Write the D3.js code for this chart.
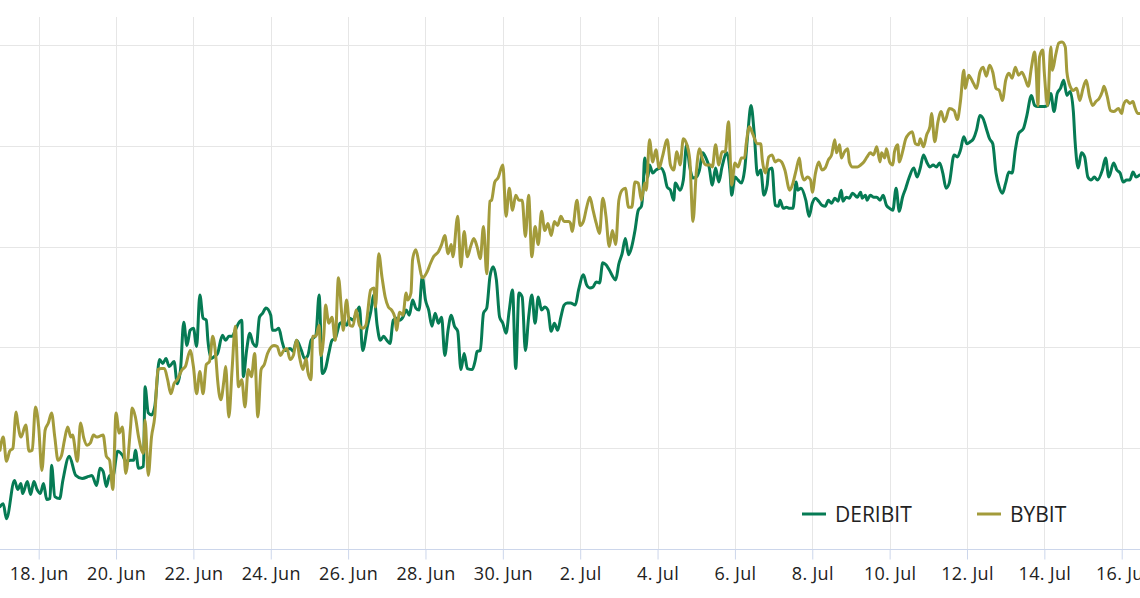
<!DOCTYPE html>
<html>
<head>
<meta charset="utf-8">
<title>DERIBIT vs BYBIT</title>
<script src="https://cdn.jsdelivr.net/npm/d3@7"></script>
<style>
  body { margin: 0; background: #fff; }
  svg { display: block; font-family: "Open Sans", "Noto Sans", sans-serif; }
</style>
</head>
<body>
<svg id="chart" width="1140" height="598"></svg>
<script>
// visible window of the chart
var viewStart = '2024-06-17T00:00';
var viewEnd = '2024-07-16T11:21';

// x axis ticks, every 2 days
var tickDates = ['2024-06-18', '2024-06-20', '2024-06-22', '2024-06-24', '2024-06-26', '2024-06-28', '2024-06-30',
  '2024-07-02', '2024-07-04', '2024-07-06', '2024-07-08', '2024-07-10', '2024-07-12', '2024-07-14', '2024-07-16'];

// horizontal grid lines (value labels are cut off in the picture)
var yTicks = [10, 20, 30, 40, 50];

var seriesNames = ['DERIBIT', 'BYBIT'];

// hours since viewStart
var deribitHours = [0, 2, 4, 9, 11, 13, 14, 17, 19, 21, 23, 25, 27, 29, 31, 32, 34, 37, 39, 43, 47, 51, 55, 57, 60, 62, 64, 66, 68, 70,
  73, 76, 78, 81, 83, 84, 86, 89, 90, 92, 94, 96, 99, 101, 103, 105, 108, 110, 112, 114, 116,
  118, 120, 122, 124, 126, 128, 129, 131, 133, 135, 138, 140, 142, 144, 146, 148, 150, 151, 153, 155, 157, 159, 161, 163, 165,
  168, 169, 171, 173, 175, 177, 180, 182, 184, 187, 189, 191, 193, 196, 198, 200, 202, 204, 206, 208, 211, 213, 215, 217, 219,
  221, 223, 225, 228, 230, 232, 234,
  236, 238, 240, 242, 244, 246, 248, 250, 252, 254, 256, 258, 260, 262, 264, 266, 268, 270, 272, 274, 276, 278, 280, 282, 284,
  286, 288, 290, 293, 295, 296, 298, 300, 302, 304, 306, 308, 310, 312, 314, 316, 318, 320, 322, 324, 326, 328, 330, 332, 334,
  336, 338, 340, 342, 344, 346, 348, 350, 352, 354,
  357, 359, 362, 364, 366, 368, 370, 372, 374, 376, 378, 382, 384, 386, 388, 390, 392, 394, 396, 398, 399, 400, 402, 403, 405,
  407, 410, 412, 414, 416, 418, 419, 422, 424, 426, 428, 430, 432, 434, 436, 438, 440, 442, 444, 446, 448, 451, 453, 454, 456,
  458, 460, 462, 464, 466, 468, 470,
  472, 474, 476, 477, 479, 481, 483, 484, 486, 488, 490, 492, 494, 495, 497, 500, 502, 504, 506, 508, 510, 512, 514, 516, 518,
  520, 522, 523, 525, 527, 529, 532, 534, 535, 537, 538, 540, 542, 544, 546, 548, 550, 552, 554, 556, 558, 560, 562, 564, 567,
  569, 571, 573, 575, 577, 579, 581, 583, 585, 587,
  589, 592, 594, 596, 598, 600, 602, 604, 606, 608, 610, 612, 614, 616, 618, 620, 622, 624, 626, 628, 630, 632, 635, 637, 640,
  642, 644, 646, 648, 650, 652, 654, 656, 658, 660, 662, 664, 666, 667, 669, 671, 673, 675, 677, 679, 681, 684, 686, 688, 691,
  693, 695, 697, 699, 701, 703, 705, 707];
var deribitValues = [4.2, 4.5, 3.0, 6.8, 5.9, 6.5, 5.5, 6.7, 5.4, 6.7, 5.9, 5.5, 6.5, 4.9, 5.0, 8.3, 5.2, 5.0, 6.8, 9.2, 7.3, 7.0, 7.2, 7.3, 6.3, 8.0, 7.7, 6.2, 7.3, 7.2,
  9.7, 9.3, 8.7, 8.8, 8.8, 9.8, 8.0, 8.2, 16.1, 13.5, 13.3, 14.1, 18.8, 18.4, 18.9, 18.1, 18.6, 16.4, 17.8, 22.5, 20.2,
  21.7, 21.9, 20.1, 25.2, 22.9, 22.7, 20.7, 18.9, 19.1, 19.4, 21.2, 20.7, 21.1, 21.1, 21.7, 22.4, 22.7, 17.1, 19.7, 21.4, 20.4, 20.1, 23.0, 23.4, 23.9,
  23.2, 21.7, 21.7, 21.9, 20.6, 19.7, 19.9, 19.6, 20.7, 19.7, 18.9, 19.2, 20.7, 21.2, 25.2, 17.4, 17.9, 19.4, 20.7, 20.9, 22.4, 22.5, 22.2, 22.9, 22.7,
  23.4, 24.0, 19.7, 22.1, 23.5, 25.2, 22.2,
  20.7, 21.1, 20.7, 20.4, 22.7, 22.9, 22.7, 23.0, 23.7, 23.2, 24.7, 23.9, 23.7, 27.0, 24.7, 23.7, 22.1, 23.4, 22.4, 23.0, 19.2, 21.7, 23.2, 22.1, 21.6,
  17.8, 19.4, 17.9, 17.8, 18.8, 19.6, 19.7, 23.4, 23.9, 27.0, 28.0, 26.7, 23.0, 22.4, 21.4, 23.7, 25.7, 17.9, 25.4, 25.0, 19.7, 23.0, 25.2, 22.4, 25.0,
  23.7, 24.0, 23.7, 21.6, 22.4, 21.7, 23.0, 24.2, 24.4, 24.4,
  24.2, 25.7, 27.2, 26.2, 25.9, 26.0, 26.5, 26.4, 28.4, 28.2, 27.7, 26.7, 28.3, 29.3, 30.8, 29.2, 30.0, 31.6, 33.6, 34.0, 35.6, 38.8, 36.9, 38.1, 37.3,
  37.6, 37.8, 37.3, 35.9, 35.6, 34.6, 36.3, 35.6, 36.6, 40.1, 37.9, 36.8, 36.9, 37.6, 39.3, 38.8, 37.9, 36.1, 37.8, 36.4, 37.9, 39.3, 37.3, 35.1, 36.9,
  36.6, 36.3, 37.6, 41.2, 44.0, 41.2, 37.1,
  37.6, 35.1, 36.1, 37.6, 37.8, 34.1, 34.0, 34.6, 33.8, 33.9, 33.8, 33.8, 36.4, 35.6, 35.8, 34.6, 33.0, 34.3, 34.8, 34.5, 34.1, 34.0, 34.6, 34.3, 34.8,
  34.5, 35.6, 34.5, 34.9, 34.8, 35.3, 34.9, 35.4, 34.8, 35.1, 34.6, 35.1, 34.9, 34.9, 34.6, 35.1, 34.1, 33.8, 33.6, 35.8, 33.5, 34.9, 35.8, 36.8, 37.8,
  36.9, 37.8, 39.1, 38.4, 37.9, 38.1, 37.9, 38.3, 37.3, 35.8,
  36.3, 39.1, 38.9, 39.6, 40.9, 40.2, 40.4, 40.7, 41.6, 43.0, 42.7, 41.7, 40.7, 40.2, 37.3, 35.9, 35.3, 36.3, 37.4, 37.3, 39.6, 41.2, 41.7, 42.9, 45.0,
  44.0, 43.9, 43.9, 43.9, 44.0, 45.2, 43.4, 45.2, 45.7, 46.5, 45.0, 45.4, 43.4, 40.6, 37.8, 39.3, 38.9, 36.9, 36.6, 36.9, 36.6, 37.6, 38.8, 36.9, 38.3,
  37.6, 37.3, 36.4, 36.6, 36.6, 37.4, 36.9, 37.1];

var bybitHours = [0, 2, 4, 6, 8, 10, 11, 13, 16, 18, 20, 22, 24, 26, 28, 30, 32, 34, 36, 38, 40, 42, 44, 45, 48, 50, 52, 54, 56, 58,
  60, 62, 64, 66, 68, 70, 72, 74, 76, 78, 81, 82, 84, 86, 89, 90, 92, 94, 96, 98, 100, 102, 104, 106, 108, 110, 113, 115, 118,
  120, 122, 124, 126, 128, 130, 132, 134, 135, 137, 139, 140, 142, 144, 146, 148, 150, 152, 154, 156, 158, 160, 162, 164, 166,
  170, 172, 174, 176, 178, 180, 182, 184, 186, 188, 190, 191, 193, 194, 196, 198, 199, 201, 202, 204, 206, 208, 210, 212, 213,
  215, 217, 219, 221, 223, 225, 227, 230, 232, 233, 235,
  237, 239, 241, 243, 245, 246, 248, 250, 252, 253, 255, 256, 258, 260, 262, 265, 267, 269, 272, 274, 276, 278, 280, 281, 284,
  286, 288, 290, 292, 294, 296, 298, 300, 302, 304, 305, 307, 309, 312, 314, 316, 318, 320, 322, 324, 326, 328, 330, 332, 334,
  336, 338, 340, 342, 344, 346, 348, 350, 353,
  354, 355, 358, 360, 362, 364, 366, 368, 370, 372, 374, 376, 378, 380, 382, 384, 386, 388, 390, 392, 394, 396, 398, 400, 401,
  403, 405, 407, 409, 411, 414, 416, 418, 420, 422, 424, 426, 428, 430, 432, 434, 436, 438, 441, 442, 444, 446, 448, 450, 452,
  454, 456, 458, 460, 462, 463, 465, 467, 470,
  472, 473, 475, 477, 479, 481, 483, 485, 487, 490, 492, 494, 496, 497, 499, 501, 503, 504, 506, 508, 510, 512, 514, 516, 518,
  519, 521, 522, 524, 526, 527, 529, 532, 534, 536, 538, 540, 542, 544, 546, 547, 549, 550, 552, 554, 555, 557, 558, 560, 562,
  564, 566, 568, 570, 571, 573, 575, 577, 578, 580, 582, 584, 586, 587, 589,
  592, 594, 596, 598, 599, 601, 604, 606, 608, 610, 612, 614, 616, 618, 620, 622, 624, 626, 628, 630, 632, 634, 636, 638, 640,
  642, 643, 644, 645, 647, 648, 650, 652, 653, 655, 657, 659, 661, 662, 664, 666, 668, 670, 672, 674, 676, 678, 680, 682, 684,
  685, 687, 689, 691, 694, 696, 697, 699, 701, 703, 704, 706, 707];
var bybitValues = [9.8, 11.1, 8.7, 9.7, 10.0, 13.6, 12.5, 11.1, 12.3, 9.7, 9.8, 14.1, 12.1, 7.8, 11.8, 12.5, 13.5, 11.1, 8.8, 9.2, 10.8, 12.1, 11.1, 11.3, 8.7, 12.5, 11.0, 10.3, 10.5, 11.3,
  11.1, 11.2, 11.3, 9.2, 8.8, 5.9, 13.5, 11.5, 12.1, 7.5, 12.1, 14.0, 13.1, 11.1, 9.5, 12.8, 7.3, 11.1, 13.1, 17.8, 17.9, 17.9, 16.8, 15.4, 16.4, 16.8, 17.8, 18.1, 19.7,
  18.1, 15.4, 17.6, 15.4, 18.3, 18.6, 21.1, 18.9, 16.8, 14.8, 16.8, 18.1, 13.1, 17.8, 22.1, 16.1, 16.8, 14.1, 17.8, 17.1, 19.4, 13.1, 17.8, 18.3, 19.4,
  20.2, 20.1, 19.2, 19.7, 19.9, 18.8, 19.2, 20.7, 18.9, 17.8, 18.9, 17.6, 16.8, 21.1, 21.1, 22.2, 19.2, 21.4, 24.2, 22.4, 23.0, 20.7, 26.9, 23.4, 21.7,
  24.7, 22.2, 22.1, 23.7, 22.2, 21.9, 22.2, 25.7, 25.9, 24.0, 29.3,
  27.0, 25.0, 24.0, 23.7, 23.0, 21.7, 23.5, 23.2, 25.4, 24.7, 25.4, 28.7, 29.7, 28.3, 26.9, 27.5, 28.3, 29.0, 29.5, 30.2, 31.1, 29.3, 30.2, 29.0, 33.0,
  28.0, 31.5, 29.0, 30.0, 30.8, 30.0, 28.8, 32.0, 27.3, 34.5, 34.6, 36.4, 36.8, 38.1, 33.0, 35.8, 33.6, 35.1, 34.6, 34.6, 31.0, 35.1, 29.0, 32.0, 30.2,
  33.5, 31.6, 32.3, 31.1, 32.5, 32.1, 33.0, 32.5, 32.5,
  32.3, 31.5, 34.6, 32.1, 32.5, 33.9, 34.9, 33.6, 32.3, 31.3, 34.8, 33.0, 30.0, 31.6, 30.2, 34.6, 35.6, 35.8, 33.9, 33.9, 36.4, 36.3, 34.6, 36.3, 35.6,
  40.6, 38.4, 39.6, 37.8, 38.9, 40.6, 38.1, 37.6, 39.4, 38.1, 40.7, 40.2, 38.6, 32.5, 37.3, 39.7, 38.6, 38.1, 38.1, 37.9, 40.1, 38.1, 39.4, 39.4, 42.4,
  36.1, 38.3, 37.9, 38.8, 38.8, 40.2, 41.9, 41.2, 40.2,
  40.2, 38.6, 37.3, 38.9, 39.1, 38.4, 38.6, 38.4, 37.6, 35.6, 36.3, 37.6, 38.8, 37.6, 36.6, 36.9, 36.6, 35.4, 37.3, 38.4, 37.6, 37.8, 38.6, 39.1, 40.6,
  39.3, 40.1, 38.8, 39.4, 39.7, 38.4, 37.9, 37.9, 38.1, 38.4, 38.9, 39.3, 39.1, 39.9, 38.4, 39.3, 38.8, 39.7, 38.4, 38.1, 39.4, 40.1, 38.4, 39.4, 40.7,
  41.2, 41.4, 40.2, 40.1, 40.7, 39.9, 41.1, 41.9, 43.2, 40.4, 42.4, 43.4, 42.4, 42.7, 43.7,
  43.5, 42.6, 44.5, 47.5, 45.7, 47.0, 46.2, 45.7, 47.3, 47.8, 46.9, 48.0, 47.3, 45.7, 45.5, 44.5, 46.5, 47.2, 46.7, 47.8, 47.0, 47.3, 46.7, 45.9, 47.8,
  49.3, 47.2, 44.0, 48.8, 49.5, 47.2, 44.0, 49.8, 47.5, 49.0, 50.2, 50.3, 49.8, 47.3, 45.9, 45.5, 45.7, 44.5, 45.7, 46.5, 44.9, 44.0, 44.4, 44.7, 45.4,
  45.9, 44.9, 43.5, 43.4, 43.7, 43.2, 44.0, 44.5, 44.2, 44.4, 43.9, 43.2, 43.2];

var colors = ['#067b54', '#a39b3b'];

var width = 1140, height = 598;
var plotTop = 17, plotBottom = 549;

var parseTime = d3.timeParse('%Y-%m-%dT%H:%M');
var parseDay = d3.timeParse('%Y-%m-%d');
var start = parseTime(viewStart);
var end = parseTime(viewEnd);

var x = d3.scaleTime().domain([start, end]).range([0, width]);
var y = d3.scaleLinear().domain([0, 52.78]).range([plotBottom, plotTop]);

var series = [
  { name: seriesNames[0], hours: deribitHours, values: deribitValues },
  { name: seriesNames[1], hours: bybitHours, values: bybitValues }
].map(function (s, i) {
  return {
    name: s.name,
    color: colors[i],
    points: s.hours.map(function (h, j) { return { t: d3.timeHour.offset(start, h), v: s.values[j] }; })
  };
});

var svg = d3.select('#chart').attr('viewBox', [0, 0, width, height]);

svg.append('rect').attr('width', width).attr('height', height).attr('fill', '#fff');

var snap = function (v) { return Math.round(v) + 0.5; };

// horizontal grid
svg.append('g')
  .selectAll('line')
  .data(yTicks)
  .join('line')
  .attr('x1', 0).attr('x2', width)
  .attr('y1', d => snap(y(d))).attr('y2', d => snap(y(d)))
  .attr('stroke', '#e6e6e6');

// vertical grid
var ticks = tickDates.map(parseDay);
svg.append('g')
  .selectAll('line')
  .data(ticks)
  .join('line')
  .attr('x1', d => snap(x(d))).attr('x2', d => snap(x(d)))
  .attr('y1', plotTop).attr('y2', plotBottom)
  .attr('stroke', '#e6e6e6');

// x axis
var xAxis = d3.axisBottom(x)
  .tickValues(ticks)
  .tickFormat(d3.timeFormat('%-d. %b'))
  .tickSizeOuter(0)
  .tickSize(10)
  .tickPadding(8);

var gx = svg.append('g')
  .attr('transform', 'translate(0,' + (plotBottom + 0.5) + ')')
  .call(xAxis);
gx.select('.domain').attr('stroke', '#ccd6eb').attr('d', 'M0,0H' + width);
gx.selectAll('.tick line').attr('stroke', '#ccd6eb');
gx.selectAll('.tick text')
  .attr('fill', '#222')
  .style('font-size', '18px')
  .style('letter-spacing', '0.3px')
  .style('font-family', '"Open Sans", "Noto Sans", sans-serif');

// lines
svg.append('clipPath').attr('id', 'plot-clip')
  .append('rect').attr('x', 0).attr('y', plotTop - 10).attr('width', width).attr('height', plotBottom - plotTop + 10);

var line = d3.line()
  .x(d => x(d.t))
  .y(d => y(d.v))
  .curve(d3.curveMonotoneX);

svg.append('g')
  .attr('clip-path', 'url(#plot-clip)')
  .selectAll('path')
  .data(series)
  .join('path')
  .attr('fill', 'none')
  .attr('stroke', d => d.color)
  .attr('stroke-width', 3)
  .attr('stroke-linejoin', 'round')
  .attr('stroke-linecap', 'round')
  .attr('d', d => line(d.points));

// legend
var legendX = [802, 977];
var legend = svg.append('g')
  .selectAll('g')
  .data(series)
  .join('g')
  .attr('transform', (d, i) => 'translate(' + legendX[i] + ',514)');

legend.append('line')
  .attr('x1', 0).attr('x2', 24)
  .attr('stroke', d => d.color)
  .attr('stroke-width', 3);

legend.append('text')
  .attr('x', 33)
  .attr('y', 7.5)
  .attr('fill', '#222')
  .style('font-size', '21px')
  .text(d => d.name);
</script>
</body>
</html>
